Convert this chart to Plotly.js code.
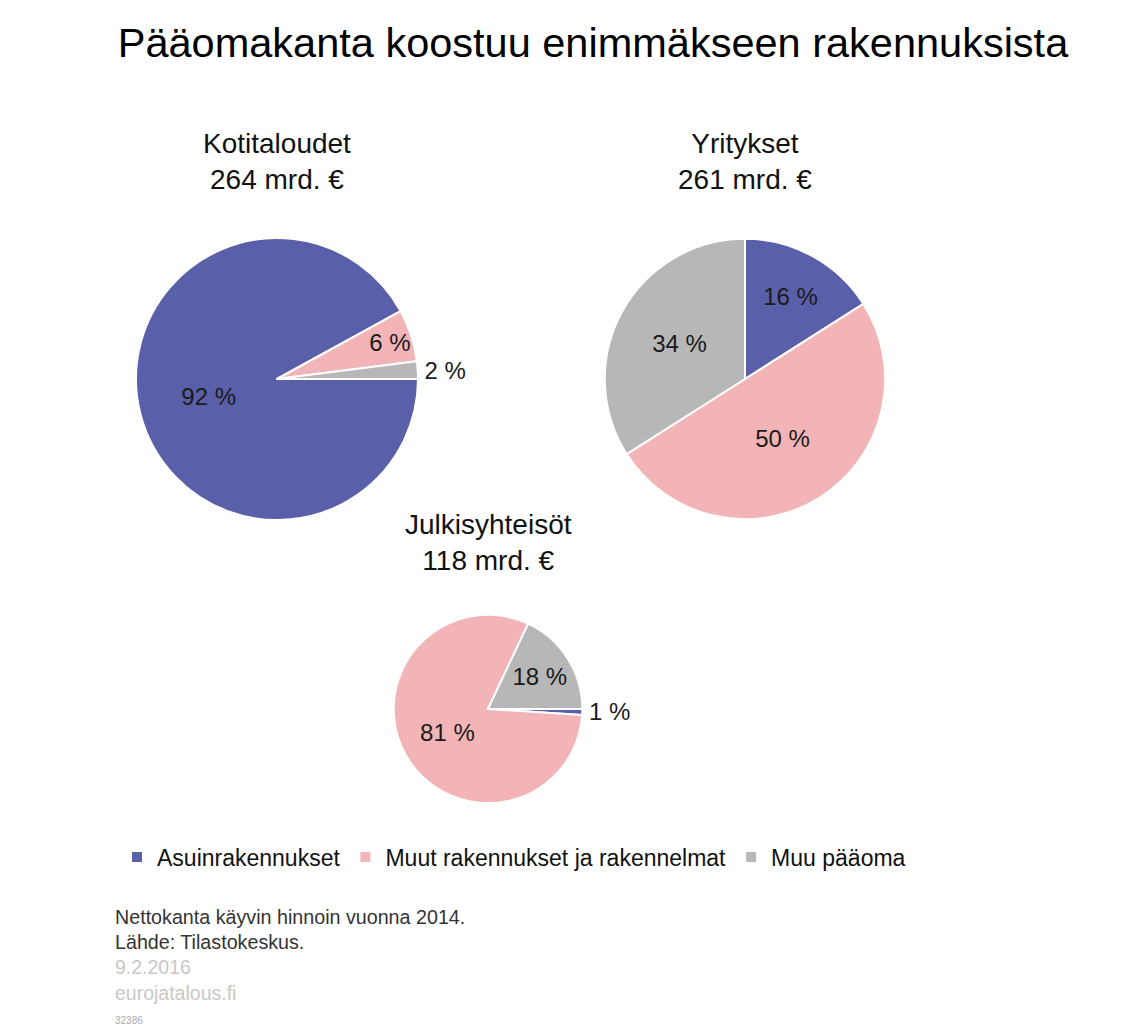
<!DOCTYPE html>
<html>
<head>
<meta charset="utf-8">
<script src="https://cdn.plot.ly/plotly-3.0.1.min.js"></script>
<style>
  html, body { margin: 0; padding: 0; background: #ffffff; }
  #chart { width: 1134px; height: 1027px; }
</style>
</head>
<body>
<div id="chart"></div>
<script>
// ---- Data ----
const chartTitle = 'Pääomakanta koostuu enimmäkseen rakennuksista';
const categories = ['Asuinrakennukset', 'Muut rakennukset ja rakennelmat', 'Muu pääoma'];
const sectors = ['Kotitaloudet', 'Yritykset', 'Julkisyhteisöt'];
const totals = [264, 261, 118];          // mrd. €
const kotitaloudetPct = [92, 6, 2];
const yrityksetPct = [16, 50, 34];
const julkisyhteisotPct = [1, 81, 18];
const notes = ['Nettokanta käyvin hinnoin vuonna 2014.', 'Lähde: Tilastokeskus.'];
const dateText = '9.2.2016';
const siteText = 'eurojatalous.fi';
const idText = '32386';

// ---- Styles ----
const colors = ['#5a5fa9', '#f2b4b6', '#b7b7b7'];
const FONT = 'Liberation Sans, Arial, Helvetica, sans-serif';
const W = 1134, H = 1027;

function px(x) { return x / W; }
function py(y) { return 1 - y / H; }

const pctSets = [kotitaloudetPct, yrityksetPct, julkisyhteisotPct];
const rotations = [90, 0, 90];
const textPositions = [
  ['inside', 'inside', 'outside'],
  ['inside', 'inside', 'inside'],
  ['outside', 'inside', 'inside']
];
// pie domains (centre in px, available radius)
const centres = [[277, 379], [745, 379], [488, 709]];
const avail = 141;

const traces = pctSets.map((pcts, i) => {
  const [cx, cy] = centres[i];
  return {
    type: 'pie',
    name: sectors[i],
    labels: categories,
    values: pcts.map(p => p * totals[i] / 100),
    text: pcts.map(p => p + ' %'),
    textinfo: 'text',
    hoverinfo: 'label+text',
    sort: false,
    direction: 'clockwise',
    rotation: rotations[i],
    scalegroup: 'sectors',
    textposition: textPositions[i],
    insidetextorientation: 'horizontal',
    textfont: { family: FONT, size: 24, color: '#1a1a1a' },
    marker: { colors: colors, line: { color: '#ffffff', width: 2 } },
    domain: {
      x: [px(cx - avail), px(cx + avail)],
      y: [py(cy + avail), py(cy - avail)]
    }
  };
});

const titlePos = [[277, 162], [745, 162], [488, 542]];
const annotations = sectors.map((s, i) => ({
  xref: 'paper', yref: 'paper',
  x: px(titlePos[i][0]), y: py(titlePos[i][1]),
  xanchor: 'center', yanchor: 'middle',
  text: s + '<br>' + totals[i] + ' mrd. €',
  showarrow: false,
  font: { family: FONT, size: 28, color: '#111111' }
}));

const footLines = [
  { text: notes[0], y: 917, size: 19.7, color: '#333333' },
  { text: notes[1], y: 942, size: 19.7, color: '#333333' },
  { text: dateText, y: 967, size: 19.5, color: '#c8c8c8' },
  { text: siteText, y: 993, size: 19.5, color: '#c8c8c8' },
  { text: idText, y: 1020, size: 10, color: '#aaaaaa' }
];
footLines.forEach(f => annotations.push({
  xref: 'paper', yref: 'paper',
  x: px(113), y: py(f.y),
  xanchor: 'left', yanchor: 'middle',
  text: f.text, showarrow: false,
  font: { family: FONT, size: f.size, color: f.color }
}));

const layout = {
  width: W, height: H,
  margin: { l: 0, r: 0, t: 0, b: 0 },
  paper_bgcolor: '#ffffff',
  plot_bgcolor: '#ffffff',
  title: {
    text: chartTitle,
    font: { family: FONT, size: 41.5, color: '#000000' },
    x: px(593), xanchor: 'center',
    y: py(42), yanchor: 'middle', xref: 'paper', yref: 'paper'
  },
  showlegend: true,
  legend: {
    orientation: 'h',
    x: px(117), xanchor: 'left',
    y: py(857), yanchor: 'middle',
    font: { family: FONT, size: 23, color: '#111111' },
    itemwidth: 30,
    bgcolor: 'rgba(0,0,0,0)'
  },
  uniformtext: { mode: 'show', minsize: 24 },
  annotations: annotations
};

Plotly.newPlot('chart', traces, layout, { displayModeBar: false, staticPlot: true });
</script>
</body>
</html>
